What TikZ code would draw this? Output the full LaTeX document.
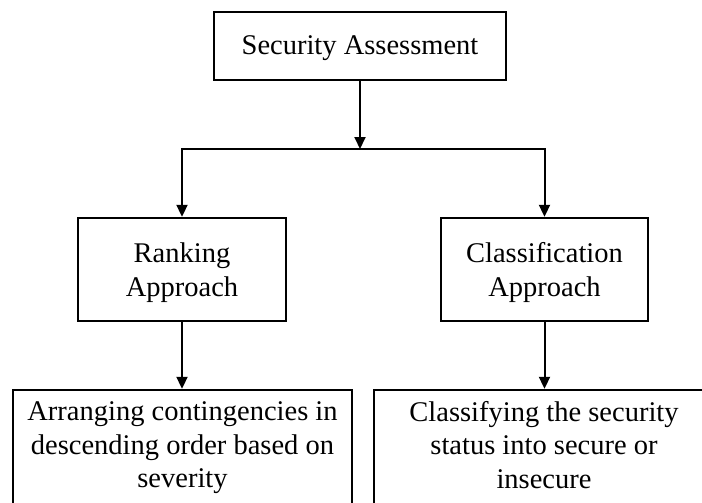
\documentclass[tikz,border=0pt]{standalone}
\usepackage{fontspec}
\setmainfont{Liberation Serif}
\usetikzlibrary{arrows.meta}
\begin{document}
\begin{tikzpicture}[x=1pt,y=-1pt]
\tikzset{
  box/.style={draw, line width=2.4pt, align=center, inner sep=0pt,
    font=\fontsize{28.5}{33.5}\selectfont},
  link/.style={line width=2pt, -{Triangle[length=12pt,width=11pt]}},
}
\useasboundingbox (0,0) rectangle (702,503);
\clip (0,0) rectangle (702,503);

% top level
\node[box, minimum width=292pt, minimum height=68pt] (top) at (360,46)
  {\rule{0pt}{24pt}Security Assessment};

% approaches
\node[box, minimum width=208pt, minimum height=103pt] (rank) at (182,269.5)
  {\rule{0pt}{26.5pt}Ranking\\Approach};
\node[box, minimum width=207pt, minimum height=103pt] (class) at (544.5,269.5)
  {\rule{0pt}{26.5pt}Classification\\Approach};

% descriptions
\node[box, minimum width=339pt, minimum height=116pt] (arr) at (182.5,448)
  {Arranging contingencies in\\descending order based on\\severity};
\node[box, minimum width=340pt, minimum height=116pt] (cls) at (544,448)
  {Classifying the security\\status into secure or\\insecure\vphantom{y}};

% connectors
\coordinate (j) at (360,149);
\draw[link] (top.south) -- (j);
\draw[link] (j) -| (rank.north);
\draw[link] (j) -| (class.north);
\draw[link] (rank.south) -- (rank.south |- arr.north);
\draw[link] (class.south) -- (class.south |- cls.north);
\end{tikzpicture}
\end{document}
